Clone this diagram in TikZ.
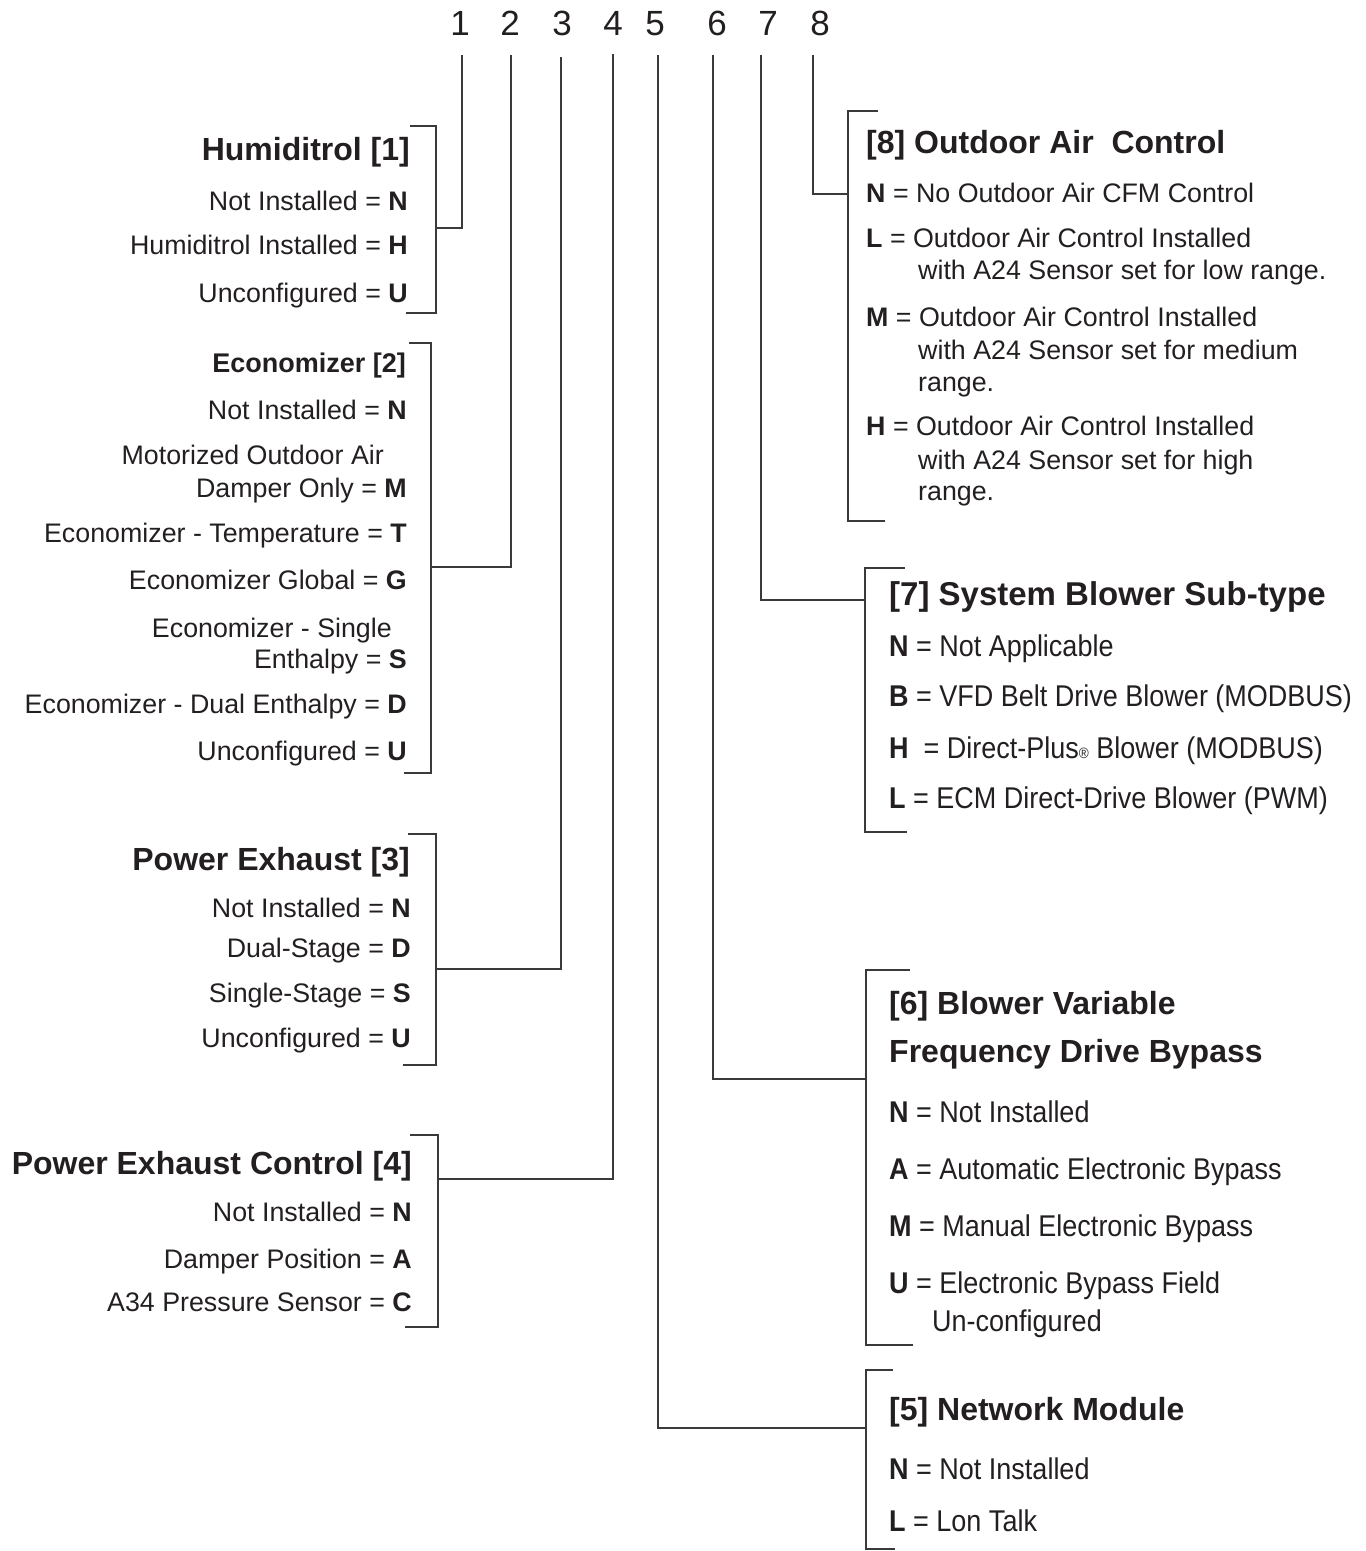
\documentclass[tikz,border=0pt]{standalone}
\usepackage{fontspec}
\setmainfont{Liberation Sans}
\newfontfamily\narrowfont[FakeStretch=0.9]{Liberation Sans}
\definecolor{ink}{HTML}{231F20}
\definecolor{linec}{HTML}{3A3A3A}
\begin{document}
\begin{tikzpicture}[x=1pt,y=-1pt,
  conn/.style={draw=linec, line width=2pt},
  brk/.style={draw=linec, line width=2pt},
  num/.style={anchor=base, inner sep=0, text=ink, font=\fontsize{35}{35}\selectfont},
  ltitle/.style={anchor=base east, inner sep=0, text=ink, font=\fontsize{32}{32}\selectfont\bfseries},
  litem/.style={anchor=base east, inner sep=0, text=ink, font=\fontsize{26.8}{26.8}\selectfont},
  rtitle/.style={anchor=base west, inner sep=0, text=ink, font=\fontsize{32}{32}\selectfont\bfseries},
  ritem/.style={anchor=base west, inner sep=0, text=ink, font=\fontsize{26.8}{26.8}\selectfont},
  nitem/.style={anchor=base west, inner sep=0, text=ink, font=\narrowfont\fontsize{30}{30}\selectfont},
]
\useasboundingbox (0,0) rectangle (1366,1551);

% ---- position numbers
\node[num] (n1) at (460,35) {1};
\node[num] (n2) at (510,35) {2};
\node[num] (n3) at (562,35) {3};
\node[num] (n4) at (613,35) {4};
\node[num] (n5) at (655,35) {5};
\node[num] (n6) at (717,35) {6};
\node[num] (n7) at (768,35) {7};
\node[num] (n8) at (820,35) {8};

% ---- line tops
\coordinate (t1) at (462,55);
\coordinate (t2) at (511,55);
\coordinate (t3) at (561,57);
\coordinate (t4) at (613,54);
\coordinate (t5) at (658,55);
\coordinate (t6) at (713,55);
\coordinate (t7) at (761,55);
\coordinate (t8) at (813,55);

% ---- bracket connection points
\coordinate (c1) at (436,228);
\coordinate (c2) at (431,567);
\coordinate (c3) at (436,969);
\coordinate (c4) at (438,1179);
\coordinate (c5) at (866,1428);
\coordinate (c6) at (866,1079);
\coordinate (c7) at (865,600);
\coordinate (c8) at (848,194);

% ---- connectors
\draw[conn] (t1) |- (c1);
\draw[conn] (t2) |- (c2);
\draw[conn] (t3) |- (c3);
\draw[conn] (t4) |- (c4);
\draw[conn] (t5) |- (c5);
\draw[conn] (t6) |- (c6);
\draw[conn] (t7) |- (c7);
\draw[conn] (t8) |- (c8);

% ---- brackets (left side)
\draw[brk] (410,126) -- (436,126) -- (436,313) -- (406,313);
\draw[brk] (409,343) -- (431,343) -- (431,773) -- (404,773);
\draw[brk] (408,834) -- (436,834) -- (436,1065) -- (403,1065);
\draw[brk] (410,1135) -- (438,1135) -- (438,1327) -- (405,1327);
% ---- brackets (right side)
\draw[brk] (878,111) -- (848,111) -- (848,521) -- (885,521);
\draw[brk] (905,568) -- (865,568) -- (865,832) -- (907,832);
\draw[brk] (910,970) -- (866,970) -- (866,1345) -- (913,1345);
\draw[brk] (893,1370) -- (866,1370) -- (866,1549) -- (895,1549);

% ---- [1] Humiditrol
\node[ltitle] (h1) at (410,160) {Humiditrol [1]};
\node[litem] (h1a) at (408,210) {Not Installed = \textbf{N}};
\node[litem] (h1b) at (408,254) {Humiditrol Installed = \textbf{H}};
\node[litem] (h1c) at (408,302) {Unconfigured = \textbf{U}};

% ---- [2] Economizer
\node[ltitle, font=\fontsize{27}{27}\selectfont\bfseries] (h2) at (406,372) {Economizer [2]};
\node[litem] (h2a) at (407,419) {Not Installed = \textbf{N}};
\node[litem] (h2b) at (384,464) {Motorized Outdoor Air};
\node[litem] (h2c) at (407,497) {Damper Only = \textbf{M}};
\node[litem] (h2d) at (407,542) {Economizer - Temperature = \textbf{T}};
\node[litem] (h2e) at (407,589) {Economizer Global = \textbf{G}};
\node[litem] (h2f) at (392,637) {Economizer - Single};
\node[litem] (h2g) at (407,668) {Enthalpy = \textbf{S}};
\node[litem] (h2h) at (407,713) {Economizer - Dual Enthalpy = \textbf{D}};
\node[litem] (h2i) at (407,760) {Unconfigured = \textbf{U}};

% ---- [3] Power Exhaust
\node[ltitle] (h3) at (410,870) {Power Exhaust [3]};
\node[litem] (h3a) at (411,917) {Not Installed = \textbf{N}};
\node[litem] (h3b) at (411,957) {Dual-Stage = \textbf{D}};
\node[litem] (h3c) at (411,1002) {Single-Stage = \textbf{S}};
\node[litem] (h3d) at (411,1047) {Unconfigured = \textbf{U}};

% ---- [4] Power Exhaust Control
\node[ltitle] (h4) at (412,1174) {Power Exhaust Control [4]};
\node[litem] (h4a) at (412,1221) {Not Installed = \textbf{N}};
\node[litem] (h4b) at (412,1268) {Damper Position = \textbf{A}};
\node[litem] (h4c) at (412,1311) {A34 Pressure Sensor = \textbf{C}};

% ---- [8] Outdoor Air Control
\node[rtitle] (h8) at (866,153) {[8] Outdoor Air~~Control};
\node[ritem] (h8a) at (866,202) {\textbf{N} = No Outdoor Air CFM Control};
\node[ritem] (h8b) at (866,247) {\textbf{L} = Outdoor Air Control Installed};
\node[ritem] (h8b2) at (918,279) {with A24 Sensor set for low range.};
\node[ritem] (h8c) at (866,326) {\textbf{M} = Outdoor Air Control Installed};
\node[ritem] (h8c2) at (918,359) {with A24 Sensor set for medium};
\node[ritem] (h8c3) at (918,391) {range.};
\node[ritem] (h8d) at (866,435) {\textbf{H} = Outdoor Air Control Installed};
\node[ritem] (h8d2) at (918,469) {with A24 Sensor set for high};
\node[ritem] (h8d3) at (918,500) {range.};

% ---- [7] System Blower Sub-type
\node[rtitle, font=\fontsize{33}{33}\selectfont\bfseries] (h7) at (889,605) {[7] System Blower Sub-type};
\node[nitem] (h7a) at (889,656) {\textbf{N} = Not Applicable};
\node[nitem] (h7b) at (889,706) {\textbf{B} = VFD Belt Drive Blower (MODBUS)};
\node[nitem] (h7c) at (889,758) {\textbf{H}~~= Direct-Plus{\fontsize{15}{15}\selectfont ®} Blower (MODBUS)};
\node[nitem] (h7d) at (889,808) {\textbf{L} = ECM Direct-Drive Blower (PWM)};

% ---- [6] Blower VFD Bypass
\node[rtitle] (h6) at (889,1014) {[6] Blower Variable};
\node[rtitle] (h6b) at (889,1062) {Frequency Drive Bypass};
\node[nitem] (h6c) at (889,1122) {\textbf{N} = Not Installed};
\node[nitem] (h6d) at (889,1179) {\textbf{A} = Automatic Electronic Bypass};
\node[nitem] (h6e) at (889,1236) {\textbf{M} = Manual Electronic Bypass};
\node[nitem] (h6f) at (889,1293) {\textbf{U} = Electronic Bypass Field};
\node[nitem] (h6g) at (932,1331) {Un-configured};

% ---- [5] Network Module
\node[rtitle] (h5) at (889,1420) {[5] Network Module};
\node[nitem] (h5a) at (889,1479) {\textbf{N} = Not Installed};
\node[nitem] (h5b) at (889,1531) {\textbf{L} = Lon Talk};

\end{tikzpicture}
\end{document}
